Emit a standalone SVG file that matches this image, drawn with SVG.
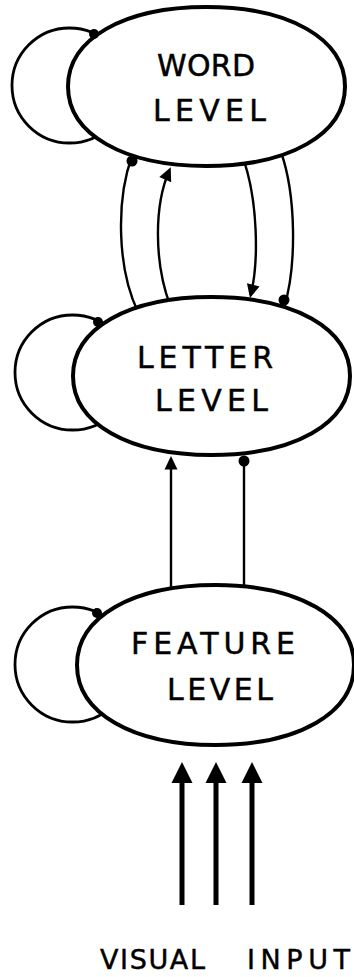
<svg xmlns="http://www.w3.org/2000/svg" xmlns:xlink="http://www.w3.org/1999/xlink" width="354" height="977" viewBox="0 0 354 977">
<style>
.node{fill:#fff;stroke:#000;stroke-width:4}
.lbl{font-family:"DejaVu Sans","Liberation Sans",sans-serif;font-size:30px;fill:#000;stroke:#000;stroke-width:0.45}
.vis{font-family:"DejaVu Sans","Liberation Sans",sans-serif;font-size:27px;fill:#000;stroke:#000;stroke-width:0.45}
.con{fill:none;stroke:#000;stroke-width:2.4}
.loop{fill:none;stroke:#000;stroke-width:2.8}
.big{fill:none;stroke:#000;stroke-width:5}
.dot{fill:#000}
</style>
<defs>
<path id="shWord" d="M68,86.5 C68,38.8 123.9,7 206.5,7 C289.1,7 345,38.8 345,86.5 C345,134.2 289.1,166 206.5,166 C123.9,166 68,134.2 68,86.5 Z"/>
<path id="shLetter" d="M73,376 C73,328.6 128.4,297 211.5,297 C294.6,297 350,328.6 350,376 C350,423.4 294.6,455 211.5,455 C128.4,455 73,423.4 73,376 Z"/>
<path id="shFeature" d="M77,665 C77,617 132.4,585 215.5,585 C298.6,585 354,617 354,665 C354,713 298.6,745 215.5,745 C132.4,745 77,713 77,665 Z"/>
<mask id="outside" maskUnits="userSpaceOnUse" x="0" y="0" width="354" height="977">
<rect x="0" y="0" width="354" height="977" fill="#fff"/>
<use xlink:href="#shWord" href="#shWord" fill="#000"/>
<use xlink:href="#shLetter" href="#shLetter" fill="#000"/>
<use xlink:href="#shFeature" href="#shFeature" fill="#000"/>
</mask>
<marker id="arr" markerUnits="userSpaceOnUse" markerWidth="18" markerHeight="16" viewBox="-13 -8 18 16" refX="0" refY="0" orient="auto">
<path d="M3,0 L-10.5,-6.5 L-10.5,6.5 Z" fill="#000"/>
</marker>
<marker id="arrBig" markerUnits="userSpaceOnUse" markerWidth="24" markerHeight="24" viewBox="-6 -12 24 24" refX="0" refY="0" orient="auto">
<path d="M16,0 L-5,-10.5 L-5,10.5 Z" fill="#000"/>
</marker>
</defs>

<g id="node-word">
<use xlink:href="#shWord" href="#shWord" class="node"/>
<text class="lbl" x="157" y="76" textLength="98" lengthAdjust="spacing">WORD</text>
<text class="lbl" x="153" y="121" textLength="113" lengthAdjust="spacing">LEVEL</text>
</g>
<g id="node-letter">
<use xlink:href="#shLetter" href="#shLetter" class="node"/>
<text class="lbl" x="137" y="368" textLength="136" lengthAdjust="spacing">LETTER</text>
<text class="lbl" x="155" y="411" textLength="113" lengthAdjust="spacing">LEVEL</text>
</g>
<g id="node-feature">
<use xlink:href="#shFeature" href="#shFeature" class="node"/>
<text class="lbl" x="131" y="654" textLength="164" lengthAdjust="spacing">FEATURE</text>
<text class="lbl" x="167" y="700" textLength="106" lengthAdjust="spacing">LEVEL</text>
</g>
<g id="node-input">
<text class="vis" x="100" y="969" textLength="105" lengthAdjust="spacing">VISUAL</text>
<text class="vis" x="247" y="969" textLength="103" lengthAdjust="spacing">INPUT</text>
</g>

<g id="connectors">
<g mask="url(#outside)">
<circle class="loop" cx="69.5" cy="85.5" r="57.5"/>
<circle class="loop" cx="72.5" cy="372.5" r="57.5"/>
<circle class="loop" cx="72.5" cy="664.5" r="57.5"/>
<path class="con" d="M138,312 C117,268 116,200 132,156"/>
<path class="con" d="M170,305 C154,262 154,205 169.5,170" marker-end="url(#arr)"/>
<path class="con" d="M243,158 C258,200 259,262 250.7,295" marker-end="url(#arr)"/>
<path class="con" d="M281,152 C296,195 297,265 284,308"/>
<path class="con" d="M171,600 L171,459" marker-end="url(#arr)"/>
<path class="con" d="M244,600 L244,458"/>
</g>
<circle class="dot" cx="94" cy="34" r="5"/>
<circle class="dot" cx="98" cy="322" r="5"/>
<circle class="dot" cx="97" cy="613" r="5"/>
<circle class="dot" cx="132" cy="161" r="5.5"/>
<circle class="dot" cx="284" cy="300" r="5.5"/>
<circle class="dot" cx="244" cy="461" r="5.5"/>
<path class="big" d="M182,905 L182,778" marker-end="url(#arrBig)"/>
<path class="big" d="M216,905 L216,778" marker-end="url(#arrBig)"/>
<path class="big" d="M252,905 L252,778" marker-end="url(#arrBig)"/>
</g>
</svg>
